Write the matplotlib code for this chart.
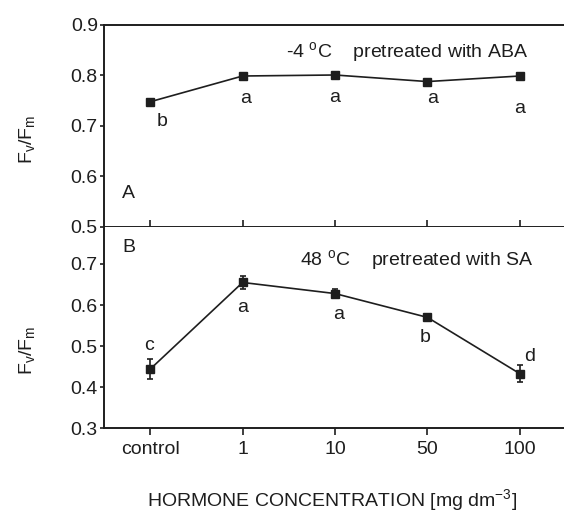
import numpy as np
import matplotlib
matplotlib.use('Agg')
import matplotlib.pyplot as plt

plt.rcParams['font.family'] = ['Liberation Sans', 'DejaVu Sans']
plt.rcParams['mathtext.fontset'] = 'custom'
plt.rcParams['mathtext.rm'] = 'Liberation Sans'
plt.rcParams['mathtext.it'] = 'Liberation Sans'
plt.rcParams['mathtext.default'] = 'regular'

# data
categories = ['control', '1', '10', '50', '100']
aba_vals = [0.748, 0.799, 0.801, 0.788, 0.799]
aba_letters = ['b', 'a', 'a', 'a', 'a']
sa_vals = [0.444, 0.655, 0.628, 0.570, 0.433]
sa_err = [0.024, 0.016, 0.012, 0.008, 0.021]
sa_letters = ['c', 'a', 'a', 'b', 'd']

W, H = 564, 513
col = '#1e1e1e'
fs = 14
fig = plt.figure(figsize=(W / 100, H / 100), dpi=100)

def box(x0, y0, x1, y1):
    return [x0 / W, 1 - y1 / H, (x1 - x0) / W, (y1 - y0) / H]

ax1 = fig.add_axes(box(104, 25, 566, 227))
ax2 = fig.add_axes(box(104, 227, 566, 428.3))

x = np.arange(len(categories))

ax1.plot(x, aba_vals, '-s', color=col, lw=1.2, ms=6)
ax2.errorbar(x, sa_vals, yerr=sa_err, fmt='-s', color=col, lw=1.2, ms=6,
             elinewidth=1.2, capsize=2.5, capthick=1.2)

aba_off = [(12, -20), (3, -22), (0, -23), (5, -17), (0, -32)]
sa_off = [(-1, 24), (0, -25), (4, -21), (-2, -20), (10, 17)]
for i in range(len(x)):
    ax1.annotate(aba_letters[i], (x[i], aba_vals[i]), xytext=aba_off[i],
                 textcoords='offset pixels', ha='center', va='center',
                 fontsize=fs, color=col)
    ax2.annotate(sa_letters[i], (x[i], sa_vals[i]), xytext=sa_off[i],
                 textcoords='offset pixels', ha='center', va='center',
                 fontsize=fs, color=col)

for ax in (ax1, ax2):
    ax.set_xlim(-0.5, 4.5)
    ax.spines['right'].set_visible(False)
    for s in ax.spines.values():
        s.set_linewidth(1.4)
        s.set_color(col)
    ax.tick_params(axis='y', direction='out', length=3, width=1.2,
                   labelsize=fs, colors=col, pad=1.5)
    ax.tick_params(axis='x', width=1.2, colors=col)

ax1.set_ylim(0.5, 0.9)
ax1.set_yticks([0.5, 0.6, 0.7, 0.8, 0.9])
ax1.set_xticks(x)
ax1.tick_params(axis='x', direction='in', length=5, labelbottom=False)

ax2.set_ylim(0.3, 0.79)
ax2.set_yticks([0.3, 0.4, 0.5, 0.6, 0.7])
ax2.set_xticks(x)
ax2.set_xticklabels(categories)
ax2.tick_params(axis='x', direction='out', length=5, labelsize=fs, pad=4)
ax2.spines['top'].set_visible(False)

fig.text(286 / W, 1 - 52 / H, '-4 $^{o}$C    pretreated with ABA',
         fontsize=fs, color=col, va='center')
fig.text(300 / W, 1 - 260 / H, '48 $^{o}$C    pretreated with SA',
         fontsize=fs, color=col, va='center')
fig.text(128 / W, 1 - 193 / H, 'A', fontsize=fs, color=col, ha='center', va='center')
fig.text(129 / W, 1 - 248 / H, 'B', fontsize=fs, color=col, ha='center', va='center')

fig.text(27 / W, 1 - 139 / H, 'F$_v$/F$_m$', rotation=90, fontsize=fs,
         color=col, ha='center', va='center')
fig.text(27 / W, 1 - 350 / H, 'F$_v$/F$_m$', rotation=90, fontsize=fs,
         color=col, ha='center', va='center')
fig.text(332 / W, 1 - 500 / H, 'HORMONE CONCENTRATION [mg dm$^{-3}$]',
         fontsize=fs, color=col, ha='center', va='center')

fig.savefig('out.png', dpi=100)
